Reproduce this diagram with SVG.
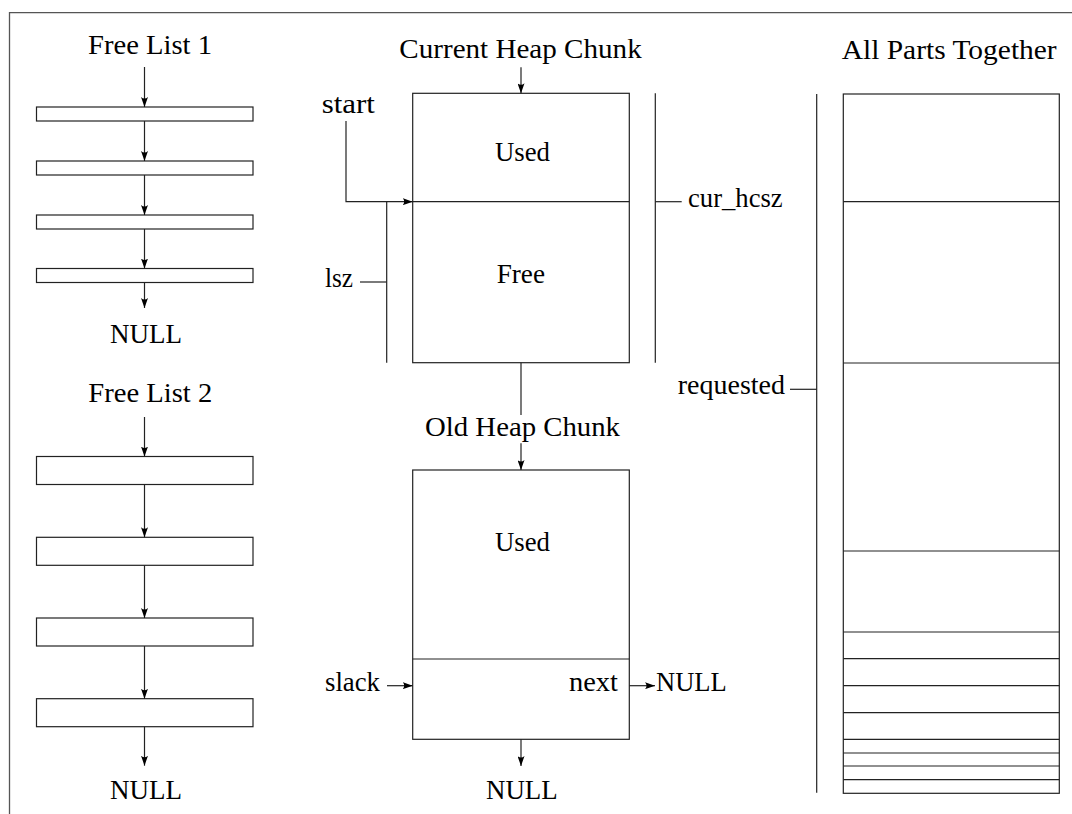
<svg xmlns="http://www.w3.org/2000/svg" width="1072" height="814" viewBox="0 0 1072 814">
  <style>
    text { font-family: "Liberation Serif", "Times New Roman", serif; font-size: 27px; fill: #000; }
    .box { fill: #fff; stroke: #222; stroke-width: 1.2; }
    .ln { fill: none; stroke: #222; stroke-width: 1.2; }
    .arr { fill: none; stroke: #222; stroke-width: 1.2; marker-end: url(#head); }
    .frame { fill: none; stroke: #555; stroke-width: 1.3; }
  </style>
  <defs>
    <marker id="head" viewBox="0 0 10 7" refX="10" refY="3.5" markerWidth="10" markerHeight="7" markerUnits="userSpaceOnUse" orient="auto">
      <path d="M0,0 Q3,3.5 0,7 L10,3.5 Z" fill="#000"/>
    </marker>
  </defs>

  <rect width="1072" height="814" fill="#fff"/>

  <!-- page frame (top and left edges) -->
  <path class="frame" d="M9.5,814 V12.7 H1072"/>

  <!-- Free list 1 -->
  <g id="freelist1">
    <text x="88" y="54" textLength="124" lengthAdjust="spacingAndGlyphs">Free List 1</text>
    <rect class="box" x="36.5" y="107" width="216.5" height="14"/>
    <rect class="box" x="36.5" y="161" width="216.5" height="14"/>
    <rect class="box" x="36.5" y="215" width="216.5" height="14"/>
    <rect class="box" x="36.5" y="268.5" width="216.5" height="14"/>
    <text x="110" y="342.7" textLength="72" lengthAdjust="spacingAndGlyphs">NULL</text>
  </g>

  <!-- Free list 2 -->
  <g id="freelist2">
    <text x="88.3" y="402.3" textLength="124" lengthAdjust="spacingAndGlyphs">Free List 2</text>
    <rect class="box" x="36.5" y="456.5" width="216.5" height="28"/>
    <rect class="box" x="36.5" y="537.3" width="216.5" height="28"/>
    <rect class="box" x="36.5" y="618" width="216.5" height="28"/>
    <rect class="box" x="36.5" y="698.7" width="216.5" height="28"/>
    <text x="110" y="799" textLength="72" lengthAdjust="spacingAndGlyphs">NULL</text>
  </g>

  <!-- Current heap chunk -->
  <g id="current-chunk">
    <text x="399.3" y="58.3" textLength="242.4" lengthAdjust="spacingAndGlyphs">Current Heap Chunk</text>
    <rect class="box" x="412.7" y="93.3" width="216.6" height="269.4"/>
    <line class="ln" x1="412.7" y1="201.7" x2="629.3" y2="201.7"/>
    <text x="495" y="161" textLength="55" lengthAdjust="spacingAndGlyphs">Used</text>
    <text x="496.7" y="282.7" textLength="48.3" lengthAdjust="spacingAndGlyphs">Free</text>
  </g>

  <g id="start-label">
    <text x="321.7" y="113.3" textLength="53.3" lengthAdjust="spacingAndGlyphs">start</text>
  </g>

  <g id="lsz-label">
    <line class="ln" x1="386.7" y1="201.7" x2="386.7" y2="362.7"/>
    <line class="ln" x1="360" y1="282" x2="386.7" y2="282"/>
    <text x="325" y="287.3" textLength="28" lengthAdjust="spacingAndGlyphs">lsz</text>
  </g>

  <g id="cur-hcsz-label">
    <line class="ln" x1="655.3" y1="93.3" x2="655.3" y2="362.7"/>
    <line class="ln" x1="655.3" y1="201.7" x2="681.7" y2="201.7"/>
    <text x="688" y="206.7" textLength="94.7" lengthAdjust="spacingAndGlyphs">cur_hcsz</text>
  </g>

  <!-- Old heap chunk -->
  <g id="old-chunk">
    <text x="425" y="436" textLength="195" lengthAdjust="spacingAndGlyphs">Old Heap Chunk</text>
    <rect class="box" x="412.7" y="470" width="216.6" height="269.3"/>
    <line class="ln" x1="412.7" y1="659" x2="629.3" y2="659"/>
    <text x="495" y="550.7" textLength="55" lengthAdjust="spacingAndGlyphs">Used</text>
    <text x="569" y="690.7" textLength="49" lengthAdjust="spacingAndGlyphs">next</text>
    <text x="486" y="799.3" textLength="71.7" lengthAdjust="spacingAndGlyphs">NULL</text>
  </g>

  <g id="slack-label">
    <text x="325" y="690.7" textLength="55" lengthAdjust="spacingAndGlyphs">slack</text>
  </g>

  <g id="next-null">
    <text x="656" y="690.7" textLength="70.7" lengthAdjust="spacingAndGlyphs">NULL</text>
  </g>

  <!-- All parts together -->
  <g id="all-parts">
    <text x="841.7" y="59.3" textLength="215" lengthAdjust="spacingAndGlyphs">All Parts Together</text>
    <rect class="box" x="843.3" y="94" width="216" height="699.3"/>
    <path class="ln" d="M843.3,201.7 H1059.3 M843.3,363 H1059.3 M843.3,551 H1059.3 M843.3,632 H1059.3 M843.3,658.7 H1059.3 M843.3,685.7 H1059.3 M843.3,712.7 H1059.3 M843.3,739.3 H1059.3 M843.3,753 H1059.3 M843.3,766 H1059.3 M843.3,779.7 H1059.3"/>
  </g>

  <g id="requested-label">
    <line class="ln" x1="816.7" y1="94" x2="816.7" y2="792.7"/>
    <line class="ln" x1="790" y1="389.3" x2="816.7" y2="389.3"/>
    <text x="677.7" y="394" textLength="107.3" lengthAdjust="spacingAndGlyphs">requested</text>
  </g>

  <!-- connectors -->
  <g id="connectors">
    <line class="arr" x1="144.5" y1="67" x2="144.5" y2="107"/>
    <line class="arr" x1="144.5" y1="121" x2="144.5" y2="161"/>
    <line class="arr" x1="144.5" y1="175" x2="144.5" y2="215"/>
    <line class="arr" x1="144.5" y1="229" x2="144.5" y2="268.5"/>
    <line class="arr" x1="144.5" y1="282.5" x2="144.5" y2="308"/>

    <line class="arr" x1="144.5" y1="417" x2="144.5" y2="456.5"/>
    <line class="arr" x1="144.5" y1="484.5" x2="144.5" y2="537.3"/>
    <line class="arr" x1="144.5" y1="565.3" x2="144.5" y2="618"/>
    <line class="arr" x1="144.5" y1="646" x2="144.5" y2="698.7"/>
    <line class="arr" x1="144.5" y1="726.7" x2="144.5" y2="765.7"/>

    <line class="arr" x1="521" y1="67.3" x2="521" y2="93.3"/>
    <path class="arr" d="M346,121 V201.7 H412.7"/>
    <line class="ln" x1="521" y1="362.7" x2="521" y2="415"/>
    <line class="arr" x1="521" y1="443.3" x2="521" y2="470"/>
    <line class="arr" x1="387" y1="685.7" x2="412.7" y2="685.7"/>
    <line class="arr" x1="629.3" y1="685.7" x2="655" y2="685.7"/>
    <line class="arr" x1="521" y1="739.3" x2="521" y2="766"/>
  </g>
</svg>
